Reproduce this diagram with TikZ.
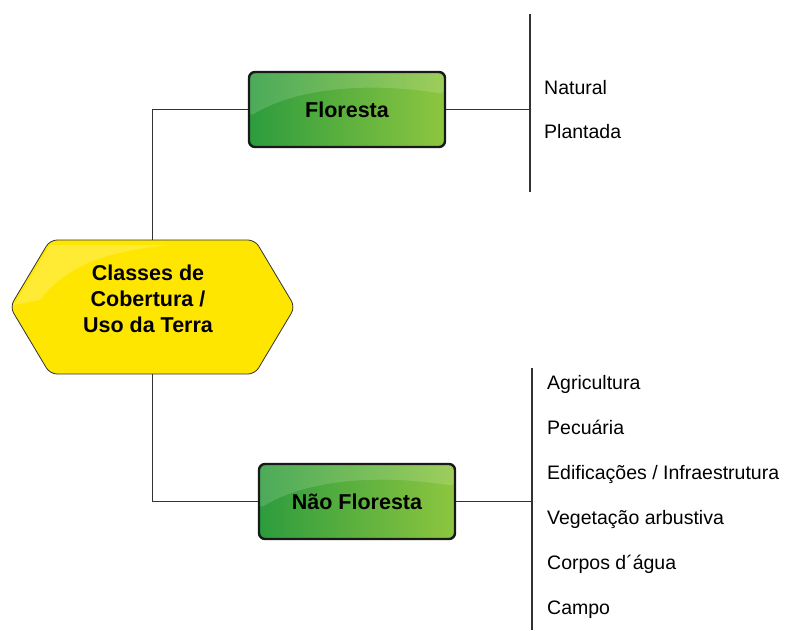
\documentclass[tikz,border=0pt]{standalone}
\usepackage{fontspec}
\setmainfont{Liberation Sans}

\definecolor{hexyellow}{RGB}{255,230,0}
\definecolor{greendark}{RGB}{44,156,62}
\definecolor{greenlight}{RGB}{142,198,63}
\definecolor{linegray}{RGB}{50,50,50}

\begin{document}
\begin{tikzpicture}[
        x=1pt, y=-1pt,
        hexa/.style={draw=linegray, line width=0.8pt, fill=hexyellow, rounded corners=7pt},
        roottext/.style={minimum width=285pt, minimum height=134pt, inner sep=0pt, align=center,
            font=\fontsize{21.5}{26}\selectfont\bfseries},
        classbox/.style={draw=black!90, line width=2.4pt, rounded corners=6pt, minimum width=196pt,
            minimum height=75pt, left color=greendark, right color=greenlight,
            font=\fontsize{21.5}{26}\selectfont\bfseries,
            path picture={\fill[white, opacity=0.15] (path picture bounding box.north west)
                -- (path picture bounding box.north east)
                -- ([yshift=-22pt]path picture bounding box.north east)
                .. controls ([xshift=-90pt,yshift=-8pt]path picture bounding box.north east)
                and ([xshift=40pt,yshift=-20pt]path picture bounding box.north west)
                .. ([yshift=-45pt]path picture bounding box.north west) -- cycle;}},
        item/.style={anchor=base west, inner sep=0pt, font=\fontsize{19.5}{23}\selectfont},
        conn/.style={draw=linegray, line width=1.1pt}
    ]
        \useasboundingbox (0,0) rectangle (790,630);

        % Root hexagon
        \draw[hexa] (10,307) -- (50,240) -- (255,240) -- (295,307) -- (255,374) -- (50,374) -- cycle;
        \fill[white, opacity=0.2] (14,305) -- (50,245) -- (170,245)
            .. controls (120,250) and (70,260) .. (40,300) -- cycle;
        \node[roottext] (root) at (152.5,307) {};
        \node[inner sep=0pt, align=center, font=\fontsize{21.5}{26}\selectfont\bfseries]
            (roottitle) at (148,299) {Classes de\\Cobertura /\\Uso da Terra};

        % Class boxes
        \node[classbox] (floresta) at (347,109.5) {Floresta};
        \node[classbox] (naofloresta) at (357,501.5) {Não Floresta};

        % Bracket ends
        \coordinate (flotop) at (530,14);
        \coordinate (flobot) at (530,192);
        \coordinate (naotop) at (532,368);
        \coordinate (naobot) at (532,630);

        % Connectors
        \draw[conn] (root.north) |- (floresta.west);
        \draw[conn] (root.south) |- (naofloresta.west);
        \draw[conn] (floresta.east) -- (floresta.east -| flotop);
        \draw[conn] (naofloresta.east) -- (naofloresta.east -| naotop);
        \draw[conn] (flotop) -- (flobot);
        \draw[conn] (naotop) -- (naobot);

        % Floresta items
        \node[item] (natural) at (544,94) {Natural};
        \node[item] (plantada) at (544,138) {Plantada};

        % Nao Floresta items
        \node[item] (agricultura) at (547,389) {Agricultura};
        \node[item] (pecuaria) at (547,434) {Pecuária};
        \node[item] (edificacoes) at (547,479) {Edificações / Infraestrutura};
        \node[item] (vegetacao) at (547,524) {Vegetação arbustiva};
        \node[item] (corpos) at (547,569) {Corpos d´água};
        \node[item] (campo) at (547,614) {Campo};
    \end{tikzpicture}
\end{document}
